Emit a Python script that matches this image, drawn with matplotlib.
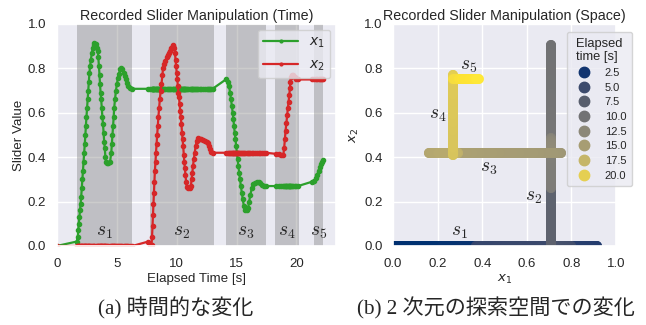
import numpy as np
import matplotlib
matplotlib.use('Agg')
import matplotlib.pyplot as plt
import seaborn as sns
from matplotlib.lines import Line2D
from matplotlib.colors import Normalize
from matplotlib.collections import LineCollection

# start of the recording
start_t = [0.0]
start_x1 = [0.0]
start_x2 = [0.0]

# s1: x1 is moved, x2 stays at 0
seg1_t = [1.67, 1.75, 1.80, 1.84, 1.89, 1.94, 1.99, 2.04, 2.09, 2.14, 2.19, 2.24, 2.29, 2.34,
          2.39, 2.43, 2.48, 2.53, 2.58, 2.63, 2.68, 2.73, 2.78, 2.85, 2.93, 3.00, 3.07, 3.15,
          3.25, 3.37, 3.42, 3.47, 3.52, 3.57, 3.61, 3.66, 3.71, 3.76, 3.81, 3.86, 3.91, 3.96,
          4.01, 4.06, 4.11, 4.18, 4.30, 4.45, 4.55, 4.60, 4.65, 4.70, 4.75, 4.79, 4.86, 4.94,
          5.02, 5.10, 5.19, 5.29, 5.38, 5.48, 5.58, 5.68, 5.78, 5.88, 5.97, 6.12, 6.30]
seg1_x1 = [0.02, 0.04, 0.07, 0.10, 0.13, 0.16, 0.19, 0.22, 0.26, 0.30, 0.34, 0.38, 0.42, 0.46,
           0.50, 0.54, 0.58, 0.62, 0.66, 0.70, 0.74, 0.78, 0.81, 0.84, 0.87, 0.89, 0.905, 0.913,
           0.91, 0.89, 0.88, 0.85, 0.81, 0.77, 0.73, 0.69, 0.66, 0.62, 0.58, 0.55, 0.51, 0.47,
           0.44, 0.40, 0.38, 0.372, 0.375, 0.38, 0.42, 0.46, 0.50, 0.54, 0.58, 0.62, 0.66, 0.70,
           0.73, 0.755, 0.775, 0.795, 0.80, 0.795, 0.78, 0.765, 0.75, 0.735, 0.72, 0.712, 0.708]
seg1_x2 = 0.0

# s2: x2 is moved, x1 stays
seg2_t = [7.64, 7.79, 7.91, 7.95, 7.99, 8.03, 8.07, 8.11, 8.15, 8.19, 8.24, 8.28, 8.33, 8.38,
          8.43, 8.48, 8.54, 8.60, 8.67, 8.74, 8.81, 8.87, 8.97, 9.07, 9.17, 9.27, 9.37, 9.46,
          9.56, 9.66, 9.74, 9.81, 9.86, 9.91, 9.96, 10.01, 10.06, 10.10, 10.15, 10.20, 10.25,
          10.30, 10.35, 10.40, 10.45, 10.50, 10.55, 10.60, 10.64, 10.69, 10.74, 10.79, 10.86,
          10.94, 11.09, 11.19, 11.25, 11.31, 11.37, 11.43, 11.51, 11.59, 11.68, 11.78, 11.92,
          12.07, 12.22, 12.37, 12.51, 12.61, 12.71, 12.81, 12.91, 13.00]
seg2_x2 = [0.02, 0.005, 0.005, 0.04, 0.09, 0.14, 0.19, 0.24, 0.29, 0.34, 0.38, 0.42, 0.46, 0.50,
           0.54, 0.58, 0.62, 0.66, 0.70, 0.73, 0.77, 0.80, 0.82, 0.835, 0.85, 0.86, 0.87, 0.88,
           0.89, 0.90, 0.905, 0.89, 0.87, 0.84, 0.81, 0.78, 0.75, 0.72, 0.69, 0.67, 0.64,
           0.61, 0.58, 0.55, 0.51, 0.48, 0.45, 0.41, 0.38, 0.35, 0.32, 0.29, 0.265,
           0.26, 0.262, 0.27, 0.30, 0.33, 0.36, 0.39, 0.42, 0.45, 0.475, 0.485, 0.483,
           0.48, 0.478, 0.475, 0.47, 0.465, 0.45, 0.435, 0.425, 0.42]
seg2_x1 = 0.708

# s3: x1 is moved, x2 stays
seg3_t = [14.16, 14.28, 14.38, 14.46, 14.54, 14.61, 14.68, 14.74, 14.79, 14.85, 14.91, 14.97,
          15.03, 15.09, 15.15, 15.22, 15.29, 15.36, 15.44, 15.52, 15.61, 15.71, 15.84, 15.96,
          16.05, 16.15, 16.27, 16.40, 16.54, 16.69, 16.84, 16.99, 17.14, 17.28, 17.43]
seg3_x1 = [0.752, 0.74, 0.72, 0.69, 0.66, 0.63, 0.60, 0.57, 0.54, 0.51, 0.48, 0.45,
           0.42, 0.39, 0.36, 0.33, 0.30, 0.27, 0.24, 0.21, 0.18, 0.163, 0.162, 0.17,
           0.20, 0.23, 0.26, 0.28, 0.285, 0.29, 0.29, 0.285, 0.275, 0.272, 0.27]
seg3_x2 = 0.42

# s4: x2 is moved, x1 stays
seg4_t = [18.30, 18.50, 18.70, 18.90, 18.97, 19.03, 19.09, 19.16, 19.22, 19.28, 19.34, 19.40,
          19.45, 19.49, 19.55, 19.61, 19.71, 19.84, 19.99, 20.13]
seg4_x2 = [0.415, 0.413, 0.41, 0.41, 0.44, 0.48, 0.52, 0.555, 0.59, 0.62, 0.65, 0.68,
           0.71, 0.74, 0.76, 0.772, 0.77, 0.76, 0.752, 0.75]
seg4_x1 = 0.27

# s5: x1 is moved, x2 stays
seg5_t = [21.33, 21.50, 21.64, 21.74, 21.84, 21.94, 22.04, 22.14, 22.22]
seg5_x1 = [0.29, 0.295, 0.305, 0.32, 0.34, 0.357, 0.37, 0.38, 0.387]
seg5_x2 = 0.75

# shaded manipulation phases
band_start = [1.72, 7.78, 14.1, 18.2, 21.44]
band_end = [6.25, 13.1, 17.44, 20.2, 22.17]
band_labels = ['$s_1$', '$s_2$', '$s_3$', '$s_4$', '$s_5$']

legend_times = [2.5, 5.0, 7.5, 10.0, 12.5, 15.0, 17.5, 20.0]

t = np.concatenate([start_t, seg1_t, seg2_t, seg3_t, seg4_t, seg5_t])
x1 = np.concatenate([start_x1, seg1_x1, np.full(len(seg2_t), seg2_x1), seg3_x1,
                     np.full(len(seg4_t), seg4_x1), seg5_x1])
x2 = np.concatenate([start_x2, np.full(len(seg1_t), seg1_x2), seg2_x2,
                     np.full(len(seg3_t), seg3_x2), seg4_x2, np.full(len(seg5_t), seg5_x2)])

sns.set_theme(style='darkgrid')
plt.rcParams['font.family'] = ['Liberation Sans', 'DejaVu Sans']
plt.rcParams['xtick.labelsize'] = 9.5
plt.rcParams['ytick.labelsize'] = 9.5
plt.rcParams['xtick.major.pad'] = 3
plt.rcParams['ytick.major.pad'] = 1.5

fig = plt.figure(figsize=(6.46, 3.25), dpi=100)
ax1 = fig.add_axes([0.0878, 0.2431, 0.4324, 0.6831])
ax2 = fig.add_axes([0.6084, 0.2431, 0.3452, 0.6831])

# time plot
for a, b, lab in zip(band_start, band_end, band_labels):
    ax1.axvspan(a, b, color='grey', alpha=0.4, lw=0)
    ax1.text((a + b) / 2, 0.063, lab, ha='center', va='center', fontsize=14,
             math_fontfamily='cm')
ax1.plot(t, x1, color='tab:green', marker='o', ms=3, lw=1.6, label='$x_1$')
ax1.plot(t, x2, color='tab:red', marker='o', ms=3, lw=1.6, label='$x_2$')
ax1.set_xlim(0, 23.3)
ax1.set_ylim(0, 1)
ax1.set_xticks([0, 5, 10, 15, 20])
ax1.set_yticks([0, 0.2, 0.4, 0.6, 0.8, 1.0])
ax1.set_title('Recorded Slider Manipulation (Time)', fontsize=10.3, pad=3)
ax1.set_xlabel('Elapsed Time [s]', fontsize=9.6, labelpad=2)
ax1.set_ylabel('Slider Value', fontsize=9.6, labelpad=2)
leg = ax1.legend(loc='upper right', fontsize=10, handlelength=2.5, borderaxespad=0.4)
for h in leg.legend_handles:
    h.set_markersize(2)

# space plot: samples coloured by time, joined as a thick round-capped track
norm = Normalize(t.min(), t.max())
cmap = plt.get_cmap('cividis')
pts = np.column_stack([x1, x2])
segs = np.stack([pts[:-1], pts[1:]], axis=1)
track = LineCollection(segs, colors=cmap(norm(t[1:])), linewidths=7.2, capstyle='round')
ax2.add_collection(track)
ax2.set_xlim(0, 1)
ax2.set_ylim(0, 1)
ax2.set_xticks([0, 0.2, 0.4, 0.6, 0.8, 1.0])
ax2.set_yticks([0, 0.2, 0.4, 0.6, 0.8, 1.0])
ax2.set_title('Recorded Slider Manipulation (Space)', fontsize=10.3, pad=3)
ax2.set_xlabel('$x_1$', fontsize=9.6, labelpad=2)
ax2.set_ylabel('$x_2$', fontsize=9.6, labelpad=2)
for lab, (px, py) in zip(band_labels, [(0.30, 0.06), (0.63, 0.22), (0.43, 0.35),
                                       (0.20, 0.59), (0.34, 0.81)]):
    ax2.text(px, py, lab, ha='center', va='center', fontsize=14, math_fontfamily='cm')

handles = [Line2D([], [], marker='o', ls='', color=cmap(norm(v)), ms=7.5) for v in legend_times]
ax2.legend(handles, [f'{v:.1f}' for v in legend_times], title='Elapsed\ntime [s]',
           loc='upper right', bbox_to_anchor=(1.072, 0.964), borderaxespad=0,
           fontsize=8, title_fontsize=9.3, labelspacing=0.42, handletextpad=0.9,
           borderpad=0.5)

cap_font = ['Liberation Serif', 'Noto Sans CJK JP']
fig.text(176 / 646, 1 - 308 / 325, '(a) 時間的な変化', ha='center', va='center',
         fontsize=15.2, family=cap_font)
fig.text(496 / 646, 1 - 308 / 325, '(b) 2 次元の探索空間での変化', ha='center', va='center',
         fontsize=15.2, family=cap_font)

fig.savefig('out.png', dpi=100)
